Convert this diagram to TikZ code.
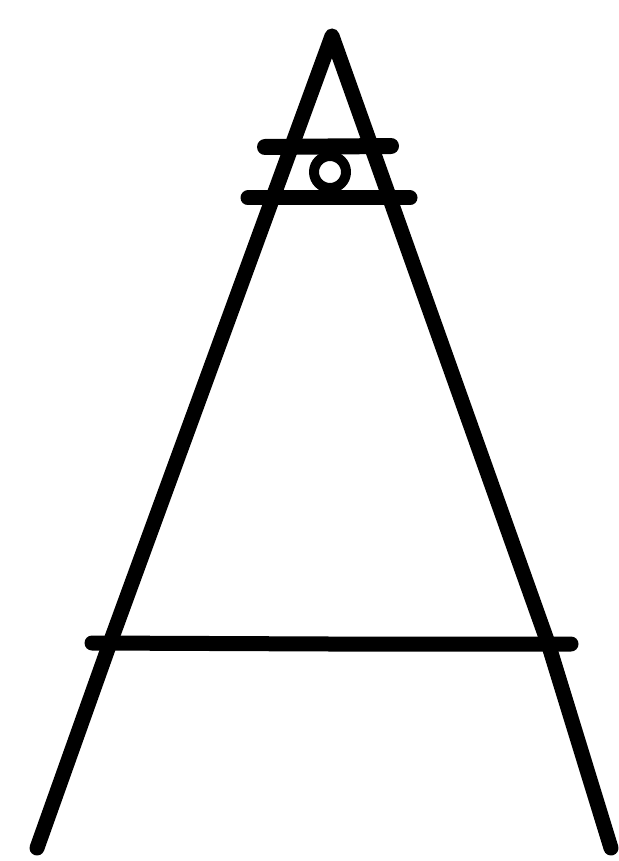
\documentclass[tikz,border=0pt]{standalone}
\usetikzlibrary{calc}

\begin{document}
\begin{tikzpicture}[line width=7.5pt, line cap=round, line join=round, x=0.5pt, y=-0.5pt]
  \useasboundingbox (0,0) rectangle (619,861);
  \coordinate (apex) at (332,36);
  \coordinate (Lmid) at (110,643);
  \coordinate (Lfoot) at (37,848);
  \coordinate (Rmid) at (548,643);
  \coordinate (Rfoot) at (611,848);
  \draw (Lfoot) -- (Lmid) -- (apex) -- (Rmid) -- (Rfoot);
  % the rungs: two short ones near the top, the long one low down
  \draw[line width=8pt] (265,147) -- (391,146);
  \draw (248,198) -- (410,198);
  \draw (92,643) -- (330,644) -- (571,644);
  \draw[line width=5pt] (330,172) circle[radius=16];
\end{tikzpicture}
\end{document}
